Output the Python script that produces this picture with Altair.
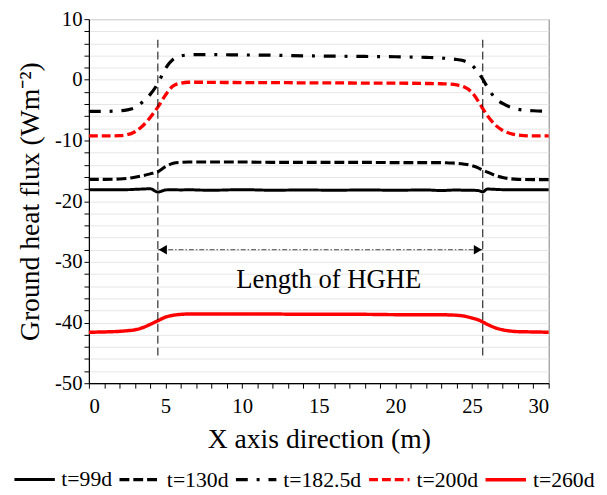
import altair as alt
import pandas as pd

# ---- data ----
X = [0, 1, 2, 2.5, 3, 3.5, 4, 4.5, 5, 5.5, 6, 6.5, 7, 8, 10, 12, 14, 16, 18, 20, 22, 23, 23.5,
     24, 24.5, 25, 25.4, 25.7, 26, 26.5, 27, 27.5, 28, 29, 30]

T99 = [-18.1, -18.1, -18.1, -18.1, -18.05, -18.0, -17.95, -18.5, -18.15, -18.1, -18.15, -18.1, -18.15,
       -18.2, -18.1, -18.2, -18.15, -18.2, -18.15, -18.2, -18.15, -18.25, -18.2,
       -18.15, -18.2, -18.2, -18.25, -18.45, -18.0, -18.05, -18.1, -18.1, -18.1, -18.1, -18.1]
T130 = [-16.4, -16.4, -16.35, -16.25, -16.05, -15.8, -15.5, -15.15, -14.3, -13.75, -13.6, -13.55, -13.55,
        -13.55, -13.55, -13.6, -13.6, -13.6, -13.6, -13.65, -13.65, -13.65, -13.7,
        -13.75, -13.9, -14.15, -14.5, -14.9, -15.2, -15.75, -16.1, -16.3, -16.4, -16.45, -16.45]
T182 = [-5.2, -5.2, -5.1, -4.95, -4.6, -3.65, -2.4, -0.6, 1.9, 3.4, 3.95, 4.1, 4.15,
        4.15, 4.1, 4.05, 3.95, 3.9, 3.85, 3.8, 3.7, 3.6, 3.5,
        3.35, 3.1, 2.4, 1.2, 0.1, -1.2, -3.0, -3.9, -4.5, -4.85, -5.1, -5.2]
T200 = [-9.25, -9.25, -9.2, -9.05, -8.55, -7.6, -6.2, -4.5, -2.5, -1.0, -0.55, -0.4, -0.4,
        -0.42, -0.45, -0.45, -0.5, -0.5, -0.55, -0.55, -0.6, -0.65, -0.7,
        -0.85, -1.2, -2.1, -3.5, -4.75, -5.9, -7.4, -8.35, -8.85, -9.1, -9.25, -9.25]
T260 = [-41.6, -41.55, -41.45, -41.35, -41.2, -40.85, -40.3, -39.7, -39.1, -38.8, -38.65, -38.6, -38.6,
        -38.6, -38.6, -38.6, -38.65, -38.65, -38.65, -38.7, -38.7, -38.7, -38.75,
        -38.8, -38.95, -39.25, -39.55, -39.9, -40.3, -40.85, -41.2, -41.4, -41.5, -41.55, -41.6]

SERIES = ["t=99d", "t=130d", "t=182.5d", "t=200d", "t=260d"]
VALUES = [T99, T130, T182, T200, T260]
COLORS = ["#000000", "#000000", "#000000", "#ff0000", "#ff0000"]
DASHES = [[1, 0], [10, 4], [12, 9, 3, 9], [9, 4], [1, 0]]
WIDTHS = [3, 3.5, 3.5, 3.5, 4]

HGHE_X = [4.5, 25.7]
RULE_TOP = 6.6
RULE_BOTTOM = -46
ARROW_Y = -28
LABEL_TEXT = "Length of HGHE"
LABEL_X = 15.65
LABEL_Y = -34.3

FONT = "Liberation Serif"

rows = []
for name, vals in zip(SERIES, VALUES):
    for xv, yv in zip(X, vals):
        rows.append({"x": xv, "y": yv, "series": name})
df = pd.DataFrame(rows)

xs = alt.Scale(domain=[0, 30], nice=False)
ys = alt.Scale(domain=[-50, 10], nice=False)

x_axis = alt.Axis(title="X axis direction (m)", values=list(range(0, 31)),
                  labelExpr="datum.value % 5 == 0 ? toString(datum.value) : ''",
                  labelOverlap=False, grid=False, tickSize=5, labelPadding=8,
                  titlePadding=9, labelFont=FONT, titleFont=FONT, labelFontSize=21,
                  titleFontSize=28)
y_axis = alt.Axis(title="Ground heat flux (Wm⁻²)", values=list(range(-50, 11, 2)),
                  labelExpr="datum.value % 10 == 0 ? toString(datum.value) : ''",
                  labelOverlap=False, grid=True, gridColor="#e6e6e6", gridWidth=1,
                  tickSize=5, labelPadding=2, titlePadding=10, labelFont=FONT,
                  titleFont=FONT, labelFontSize=21, titleFontSize=28)

legend = alt.Legend(orient="none", legendX=-77, legendY=444, direction="horizontal",
                    title=None, symbolType="stroke", symbolSize=1681, symbolStrokeWidth=3,
                    labelFont=FONT, labelFontSize=22, labelOffset=5, columnPadding=0,
                    labelColor="black")

lines = alt.Chart(df).mark_line(interpolate="monotone").encode(
    x=alt.X("x:Q", scale=xs, axis=x_axis),
    y=alt.Y("y:Q", scale=ys, axis=y_axis),
    color=alt.Color("series:N", scale=alt.Scale(domain=SERIES, range=COLORS), legend=legend),
    strokeDash=alt.StrokeDash("series:N", scale=alt.Scale(domain=SERIES, range=DASHES), legend=legend),
    strokeWidth=alt.StrokeWidth("series:N", scale=alt.Scale(domain=SERIES, range=WIDTHS), legend=None),
)

vdf = pd.DataFrame({"x": HGHE_X, "y": [RULE_TOP] * 2, "y2": [RULE_BOTTOM] * 2})
vrules = alt.Chart(vdf).mark_rule(color="black", strokeWidth=1, strokeDash=[8, 4]).encode(
    x=alt.X("x:Q", scale=xs, axis=x_axis),
    y=alt.Y("y:Q", scale=ys, axis=y_axis),
    y2="y2:Q",
)

adf = pd.DataFrame({"x": [HGHE_X[0]], "x2": [HGHE_X[1]], "y": [ARROW_Y]})
arrow = alt.Chart(adf).mark_rule(color="#444444", strokeWidth=1, strokeDash=[5, 2, 1.5, 2]).encode(
    x=alt.X("x:Q", scale=xs, axis=x_axis),
    x2="x2:Q",
    y=alt.Y("y:Q", scale=ys, axis=y_axis),
)

ldf = pd.DataFrame({"x": [HGHE_X[0]], "y": [ARROW_Y]})
rdf = pd.DataFrame({"x": [HGHE_X[1]], "y": [ARROW_Y]})
head_l = alt.Chart(ldf).mark_point(shape="triangle-left", filled=True, size=90, color="black",
                                   opacity=1, xOffset=5).encode(
    x=alt.X("x:Q", scale=xs, axis=x_axis), y=alt.Y("y:Q", scale=ys, axis=y_axis))
head_r = alt.Chart(rdf).mark_point(shape="triangle-right", filled=True, size=90, color="black",
                                   opacity=1, xOffset=-5).encode(
    x=alt.X("x:Q", scale=xs, axis=x_axis), y=alt.Y("y:Q", scale=ys, axis=y_axis))

tdf = pd.DataFrame({"x": [LABEL_X], "y": [LABEL_Y], "t": [LABEL_TEXT]})
label = alt.Chart(tdf).mark_text(font=FONT, fontSize=27, align="center", baseline="alphabetic",
                                 color="black").encode(
    x=alt.X("x:Q", scale=xs, axis=x_axis), y=alt.Y("y:Q", scale=ys, axis=y_axis), text="t:N")

chart = alt.layer(lines, vrules, arrow, head_l, head_r, label).properties(
    width=466, height=369,
    autosize=alt.AutoSizeParams(type="none"),
    padding={"left": 82, "top": 8, "right": 51, "bottom": 110},
).configure_view(stroke="#7f7f7f", strokeWidth=1).configure_axis(
    labelFont=FONT, titleFont=FONT, labelFontSize=21, titleFontSize=28,
    titleFontWeight="normal", labelColor="black", titleColor="black",
    domainColor="black", tickColor="black", domainWidth=1.2,
)

chart.save("out.html", embed_options={"renderer": "svg", "actions": False})
